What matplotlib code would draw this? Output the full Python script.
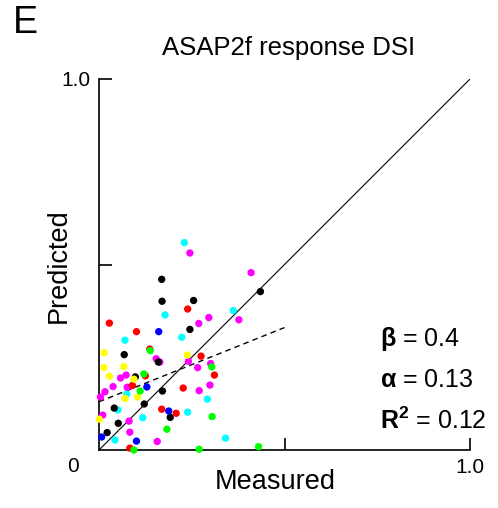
#Importing packages...
import numpy as np
import matplotlib.pyplot as plt

#------------------------------------------------------------------------------
#Data (measured vs predicted DSI), one list per colour
#------------------------------------------------------------------------------
cyan_x = [0.230, 0.178, 0.070, 0.223, 0.362, 0.075, 0.051, 0.118, 0.239, 0.292, 0.043, 0.341]
cyan_y = [0.559, 0.364, 0.296, 0.304, 0.376, 0.151, 0.108, 0.087, 0.102, 0.137, 0.027, 0.032]

magenta_x = [0.245, 0.410, 0.269, 0.296, 0.377, 0.154, 0.164, 0.241, 0.266, 0.301, 0.058, 0.073,
             0.038, 0.016, 0.076, 0.299, 0.270, 0.004, 0.010, 0.081, 0.083, 0.157]
magenta_y = [0.531, 0.478, 0.341, 0.357, 0.351, 0.246, 0.237, 0.239, 0.222, 0.233, 0.194, 0.202,
             0.171, 0.157, 0.169, 0.175, 0.160, 0.143, 0.094, 0.078, 0.048, 0.023]

red_x = [0.028, 0.101, 0.239, 0.137, 0.275, 0.125, 0.090, 0.311, 0.227, 0.169, 0.208, 0.083]
red_y = [0.342, 0.319, 0.380, 0.272, 0.253, 0.200, 0.174, 0.202, 0.167, 0.110, 0.099, 0.005]

black_x = [0.169, 0.170, 0.255, 0.435, 0.245, 0.068, 0.160, 0.098, 0.171, 0.122, 0.041, 0.192, 0.052, 0.022]
black_y = [0.460, 0.401, 0.403, 0.427, 0.325, 0.257, 0.237, 0.197, 0.159, 0.124, 0.113, 0.088, 0.072, 0.047]

blue_x = [0.161, 0.129, 0.188, 0.007, 0.101]
blue_y = [0.319, 0.170, 0.105, 0.035, 0.024]

yellow_x = [0.014, 0.013, 0.067, 0.028, 0.238, 0.094, 0.070, 0.104, 0.001]
yellow_y = [0.262, 0.222, 0.225, 0.199, 0.256, 0.191, 0.139, 0.143, 0.083]

green_x = [0.138, 0.121, 0.304, 0.111, 0.305, 0.183, 0.094, 0.270, 0.430]
green_y = [0.268, 0.205, 0.224, 0.159, 0.090, 0.056, 0.000, 0.002, 0.009]

#fit values printed on the panel
beta = 0.4
alpha = 0.13
r2 = 0.12

#------------------------------------------------------------------------------
#Plotting
#------------------------------------------------------------------------------
plt.rcParams['font.family'] = ['Liberation Sans', 'DejaVu Sans']
plt.rcParams['mathtext.fontset'] = 'custom'
plt.rcParams['mathtext.bf'] = 'Liberation Sans:bold'
plt.rcParams['mathtext.rm'] = 'Liberation Sans'

fig = plt.figure(figsize=(4.98, 5.08), dpi=100)
ax = fig.add_axes([99/498, 58/508, 371/498, 371/508])

groups = [(cyan_x, cyan_y, '#00ffff'), (magenta_x, magenta_y, '#ff00ff'),
          (red_x, red_y, '#ff0000'), (black_x, black_y, '#000000'),
          (blue_x, blue_y, '#0000ff'), (yellow_x, yellow_y, '#ffff00'),
          (green_x, green_y, '#00ff00')]
for gx, gy, c in groups:
    ax.scatter(gx, gy, s=28, color=c, edgecolors='none', clip_on=False, zorder=3)

#identity line and regression fit (dashed, over the data range)
ax.plot([0, 1], [0, 1], color='k', lw=0.8, zorder=2)
x_fit = np.array([0, 0.5])
ax.plot(x_fit, alpha + beta*x_fit, color='k', lw=1.0, ls=(0, (4, 3)), zorder=2)

ax.set_xlim(0, 1)
ax.set_ylim(0, 1)
ax.spines['top'].set_visible(False)
ax.spines['right'].set_visible(False)
for s in ['left', 'bottom']:
    ax.spines[s].set_linewidth(1.2)
ax.set_xticks([0.5, 1.0])
ax.set_xticklabels(['', '1.0'])
ax.set_yticks([0.5, 1.0])
ax.set_yticklabels(['', '1.0'])
ax.tick_params(direction='in', length=9, width=1.2, labelsize=15, pad=6, color='k')
ax.text(-0.07, -0.045, '0', transform=ax.transAxes, ha='center', va='center', fontsize=15)

#labels placed directly in figure pixels
fig.text(275/498, 1 - 482/508, 'Measured', fontsize=19.5, ha='center', va='center')
fig.text(59/498, 1 - 266/508, 'Predicted', fontsize=19.5, rotation=90, ha='center', va='center')
fig.text(289/498, 1 - 48/508, 'ASAP2f response DSI', fontsize=18.5, ha='center', va='center')
fig.text(13/498, 1 - 23/508, 'E', fontsize=27, ha='left', va='center')

#stats text
ax.text(0.757, 0.30, r'$\mathbf{\beta}$ = %.1f' % beta, transform=ax.transAxes, fontsize=18, va='center')
ax.text(0.757, 0.19, r'$\mathbf{\alpha}$ = %.2f' % alpha, transform=ax.transAxes, fontsize=18, va='center')
ax.text(0.757, 0.08, r'$\mathbf{R^2}$ = %.2f' % r2, transform=ax.transAxes, fontsize=18, va='center')

plt.savefig('out.png', dpi=100)
